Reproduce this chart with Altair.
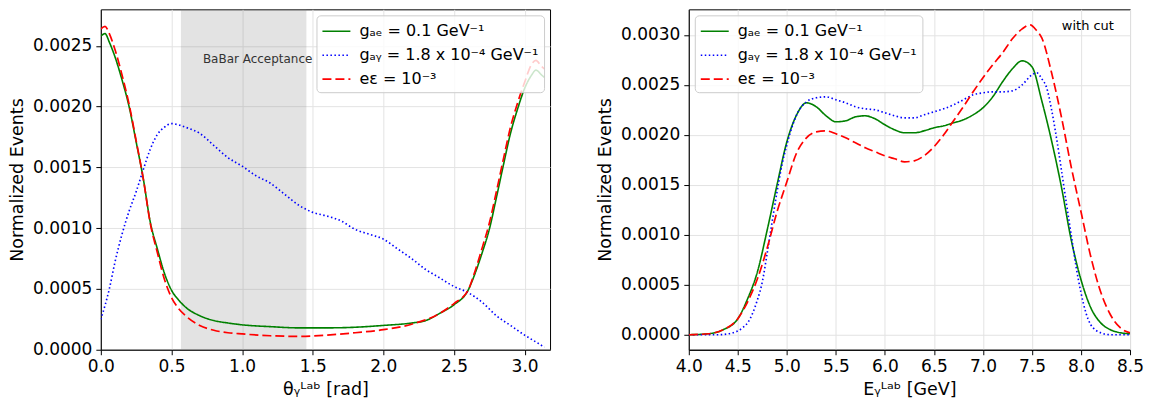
import altair as alt
import pandas as pd

FONT = "DejaVu Sans"
SERIES = ["gₐₑ = 0.1 GeV⁻¹", "gₐᵧ = 1.8 x 10⁻⁴ GeV⁻¹", "eε = 10⁻³"]
COLORS = ["#008000", "#0000ff", "#ff0000"]
DASHES = [[1, 0], [1.5, 2.5], [9, 4]]
WIDTHS = [1.6, 1.7, 2.6]

# ---------------- left panel: photon angle ----------------
theta_ae = [0, 0.03, 0.06, 0.1, 0.15, 0.2, 0.25, 0.3, 0.35, 0.4, 0.45, 0.5, 0.55, 0.6, 0.7, 0.8,
            0.9, 1.0, 1.2, 1.4, 1.6, 1.8, 2.0, 2.2, 2.3, 2.4, 2.5, 2.6, 2.65, 2.7, 2.75, 2.8,
            2.85, 2.9, 2.95, 3.0, 3.05, 3.08, 3.12, 3.14]
left_ae = [0.00258, 0.0026, 0.00253, 0.00241, 0.00222, 0.002, 0.00171, 0.00141, 0.00105, 0.00083,
           0.00063, 0.00049, 0.00041, 0.00035, 0.00028, 0.00024, 0.00022, 0.000205, 0.00019,
           0.00018, 0.00018, 0.000185, 0.0002, 0.00022, 0.00024, 0.0003, 0.00037, 0.00049,
           0.00063, 0.0008, 0.00099, 0.00125, 0.00152, 0.00178, 0.00198, 0.00215, 0.00226,
           0.0023, 0.00226, 0.00224]

theta_ag = [0, 0.06, 0.1, 0.15, 0.2, 0.25, 0.3, 0.35, 0.4, 0.45, 0.5, 0.55, 0.6, 0.7, 0.8, 0.9,
            1.0, 1.1, 1.2, 1.3, 1.4, 1.5, 1.6, 1.7, 1.8, 1.9, 2.0, 2.1, 2.2, 2.3, 2.4, 2.5, 2.6,
            2.7, 2.8, 2.9, 3.0, 3.1, 3.14]
left_ag = [0.00025, 0.0005, 0.00072, 0.00095, 0.00114, 0.0013, 0.00148, 0.00165, 0.00177,
           0.00183, 0.00186, 0.00185, 0.00183, 0.00178, 0.00168, 0.00158, 0.00151, 0.00143,
           0.00137, 0.00128, 0.00119, 0.00113, 0.0011, 0.00106, 0.00099, 0.00095, 0.00091,
           0.00083, 0.00075, 0.00066, 0.00059, 0.00052, 0.00047, 0.00039, 0.00028, 0.0002,
           0.00012, 0.00005, 0.00002]

theta_ee = [0, 0.03, 0.06, 0.1, 0.15, 0.2, 0.25, 0.3, 0.35, 0.4, 0.45, 0.5, 0.55, 0.6, 0.7, 0.8,
            0.9, 1.0, 1.2, 1.4, 1.6, 1.8, 2.0, 2.2, 2.4, 2.5, 2.6, 2.65, 2.7, 2.75, 2.8, 2.85,
            2.9, 2.95, 3.0, 3.05, 3.08, 3.12, 3.14]
left_ee = [0.00264, 0.00266, 0.0026, 0.00247, 0.00226, 0.00202, 0.00172, 0.00141, 0.00104,
           0.0008, 0.00058, 0.00043, 0.00034, 0.00028, 0.0002, 0.00016, 0.00014, 0.00013,
           0.000115, 0.00011, 0.00012, 0.00014, 0.000165, 0.00021, 0.0003, 0.00038, 0.00049,
           0.00065, 0.00084, 0.00104, 0.0013, 0.00157, 0.00183, 0.00203, 0.0022, 0.00235,
           0.00238, 0.00233, 0.00231]

band_start = [0.567]
band_end = [1.455]
band_label = ["BaBar Acceptance"]
band_label_x = [1.11]
band_label_y = [0.00239]

# ---------------- right panel: photon energy ----------------
e_ae = [4.0, 4.2, 4.35, 4.5, 4.6, 4.7, 4.8, 4.9, 5.0, 5.1, 5.2, 5.3, 5.4, 5.5, 5.6, 5.7, 5.8,
        5.9, 6.0, 6.1, 6.2, 6.3, 6.4, 6.5, 6.6, 6.7, 6.8, 6.9, 7.0, 7.1, 7.2, 7.3, 7.4, 7.5,
        7.6, 7.7, 7.8, 7.9, 8.0, 8.1, 8.2, 8.3, 8.4, 8.5]
right_ae = [0.0, 0.00001, 0.00005, 0.00016, 0.00036, 0.00063, 0.00105, 0.0015, 0.00193, 0.0022,
            0.00232, 0.00228, 0.00219, 0.00213, 0.00214, 0.00218, 0.00219, 0.00216, 0.0021,
            0.00205, 0.00202, 0.00202, 0.00204, 0.00207, 0.00209, 0.00212, 0.00215, 0.0022,
            0.00227, 0.00238, 0.00253, 0.00266, 0.00274, 0.00268, 0.00234, 0.00194, 0.00148,
            0.00095, 0.00055, 0.00027, 0.00012, 0.00005, 0.00002, 0.00001]

e_ag = [4.0, 4.3, 4.45, 4.55, 4.6, 4.7, 4.75, 4.8, 4.85, 4.9, 4.95, 5.0, 5.05, 5.1, 5.2, 5.3,
        5.4, 5.5, 5.6, 5.7, 5.8, 5.9, 6.0, 6.1, 6.2, 6.3, 6.4, 6.5, 6.6, 6.7, 6.8, 6.9, 7.0,
        7.1, 7.2, 7.3, 7.4, 7.5, 7.55, 7.6, 7.65, 7.7, 7.75, 7.8, 7.85, 7.9, 7.95, 8.0, 8.05,
        8.1, 8.2, 8.3, 8.5]
right_ag = [0.0, 0.0, 0.00002, 0.00007, 0.00012, 0.00035, 0.00053, 0.00082, 0.00113, 0.00143,
            0.0017, 0.0019, 0.00207, 0.0022, 0.00233, 0.00237, 0.00238, 0.00235, 0.00232,
            0.00228, 0.00226, 0.00225, 0.00222, 0.00219, 0.00217, 0.00217, 0.0022, 0.00223,
            0.00226, 0.0023, 0.00235, 0.0024, 0.00242, 0.00243, 0.00243, 0.00244, 0.0025,
            0.0026, 0.00262, 0.00256, 0.00247, 0.00225, 0.00197, 0.00165, 0.00132, 0.001,
            0.00068, 0.00042, 0.00022, 0.0001, 0.00002, 0.0, 0.0]

e_ee = [4.0, 4.2, 4.35, 4.5, 4.6, 4.7, 4.8, 4.9, 5.0, 5.1, 5.2, 5.3, 5.4, 5.5, 5.6, 5.7, 5.8,
        5.9, 6.0, 6.1, 6.2, 6.3, 6.4, 6.5, 6.6, 6.7, 6.8, 6.9, 7.0, 7.1, 7.2, 7.3, 7.4, 7.48,
        7.55, 7.6, 7.7, 7.8, 7.9, 8.0, 8.1, 8.2, 8.3, 8.4, 8.5]
right_ee = [0.0, 0.00001, 0.00005, 0.00016, 0.00033, 0.00056, 0.00087, 0.00123, 0.00153,
            0.00182, 0.00197, 0.00203, 0.00204, 0.00201, 0.00197, 0.00192, 0.00187, 0.00183,
            0.00179, 0.00176, 0.00173, 0.00174, 0.00179, 0.00188, 0.002, 0.00214, 0.00228,
            0.00243, 0.00257, 0.0027, 0.00282, 0.00296, 0.00306, 0.0031, 0.00304, 0.00297,
            0.00262, 0.00218, 0.00168, 0.00123, 0.00078, 0.00043, 0.0002, 0.00007, 0.00002]

cut_label = ["with cut"]
cut_label_x = [8.07]
cut_label_y = [0.00309]

left_ticks = [0.0, 0.5, 1.0, 1.5, 2.0, 2.5, 3.0]
left_yticks = [0.0, 0.0005, 0.001, 0.0015, 0.002, 0.0025]
right_ticks = [4.0, 4.5, 5.0, 5.5, 6.0, 6.5, 7.0, 7.5, 8.0, 8.5]
right_yticks = [0.0, 0.0005, 0.001, 0.0015, 0.002, 0.0025, 0.003]

LXD = [0, 3.18]
LYD = [0, 0.0028]
RXD = [4.0, 8.5]
RYD = [-0.00015, 0.003255]


def sc(dom):
    return alt.Scale(domain=dom, nice=False, zero=False, padding=0)


def frame(xs_list, ys_list):
    rows = []
    for name, xs, ys in zip(SERIES, xs_list, ys_list):
        for i, (a, b) in enumerate(zip(xs, ys)):
            rows.append({"x": a, "y": b, "series": name, "i": i})
    return pd.DataFrame(rows)


def lines(df, xdom, ydom, xticks, yticks, xtitle, legend_orient):
    legend = alt.Legend(orient=legend_orient, offset=6, title=None,
                        fillColor="rgba(255,255,255,0.8)", strokeColor="#cccccc",
                        cornerRadius=4, padding=5, labelFontSize=16, labelFont=FONT,
                        labelColor="black", symbolType="M-1,0H1.8", symbolSize=400,
                        rowPadding=5, labelOffset=16, zindex=1, labelLimit=400)
    return alt.Chart(df).mark_line(interpolate="monotone", clip=True).encode(
        x=alt.X("x:Q", scale=sc(xdom),
                axis=alt.Axis(values=xticks, format=".1f", title=xtitle, labelFlush=False)),
        y=alt.Y("y:Q", scale=sc(ydom),
                axis=alt.Axis(values=yticks, format=".4f", title="Normalized Events")),
        color=alt.Color("series:N", scale=alt.Scale(domain=SERIES, range=COLORS), legend=legend),
        strokeDash=alt.StrokeDash("series:N", scale=alt.Scale(domain=SERIES, range=DASHES),
                                  legend=legend),
        strokeWidth=alt.StrokeWidth("series:N", scale=alt.Scale(domain=SERIES, range=WIDTHS),
                                    legend=legend),
        detail="series:N",
        order="i:Q",
    )


left_df = frame([theta_ae, theta_ag, theta_ee], [left_ae, left_ag, left_ee])
right_df = frame([e_ae, e_ag, e_ee], [right_ae, right_ag, right_ee])

band = alt.Chart(pd.DataFrame({"a": band_start, "b": band_end})).mark_rect(
    color="#808080", opacity=0.22).encode(
    x=alt.X("a:Q", scale=sc(LXD)),
    x2="b:Q")

band_text = alt.Chart(pd.DataFrame({"t": band_label, "x": band_label_x, "y": band_label_y})).mark_text(
    font=FONT, fontSize=12, color="#333333", align="center", baseline="middle").encode(
    x=alt.X("x:Q", scale=sc(LXD)), y=alt.Y("y:Q", scale=sc(LYD)), text="t:N")

left = alt.layer(
    band,
    lines(left_df, LXD, LYD, left_ticks, left_yticks, "θᵧᴸᵃᵇ [rad]", "top-right"),
    band_text,
).properties(width=450, height=341)

cut_text = alt.Chart(pd.DataFrame({"t": cut_label, "x": cut_label_x, "y": cut_label_y})).mark_text(
    font=FONT, fontSize=13, color="black", align="center", baseline="middle").encode(
    x=alt.X("x:Q", scale=sc(RXD)), y=alt.Y("y:Q", scale=sc(RYD)), text="t:N")

right = alt.layer(
    lines(right_df, RXD, RYD, right_ticks, right_yticks, "Eᵧᴸᵃᵇ [GeV]", "top-left"),
    cut_text,
).properties(width=442, height=341)

chart = alt.hconcat(left, right, spacing=45).resolve_legend(
    color="independent", strokeDash="independent", strokeWidth="independent"
).properties(padding=0).configure_view(
    stroke="black", strokeWidth=1
).configure_axis(
    labelFont=FONT, titleFont=FONT, labelFontSize=17, titleFontSize=17.5,
    titleFontWeight="normal", labelColor="black", titleColor="black",
    domainColor="black", tickColor="black", tickSize=5, labelPadding=4,
    gridColor="#e3e3e3", gridWidth=1, titlePadding=6,
).configure_axisY(titlePadding=6)

chart.save("out.html", embed_options={"renderer": "svg", "actions": False})
